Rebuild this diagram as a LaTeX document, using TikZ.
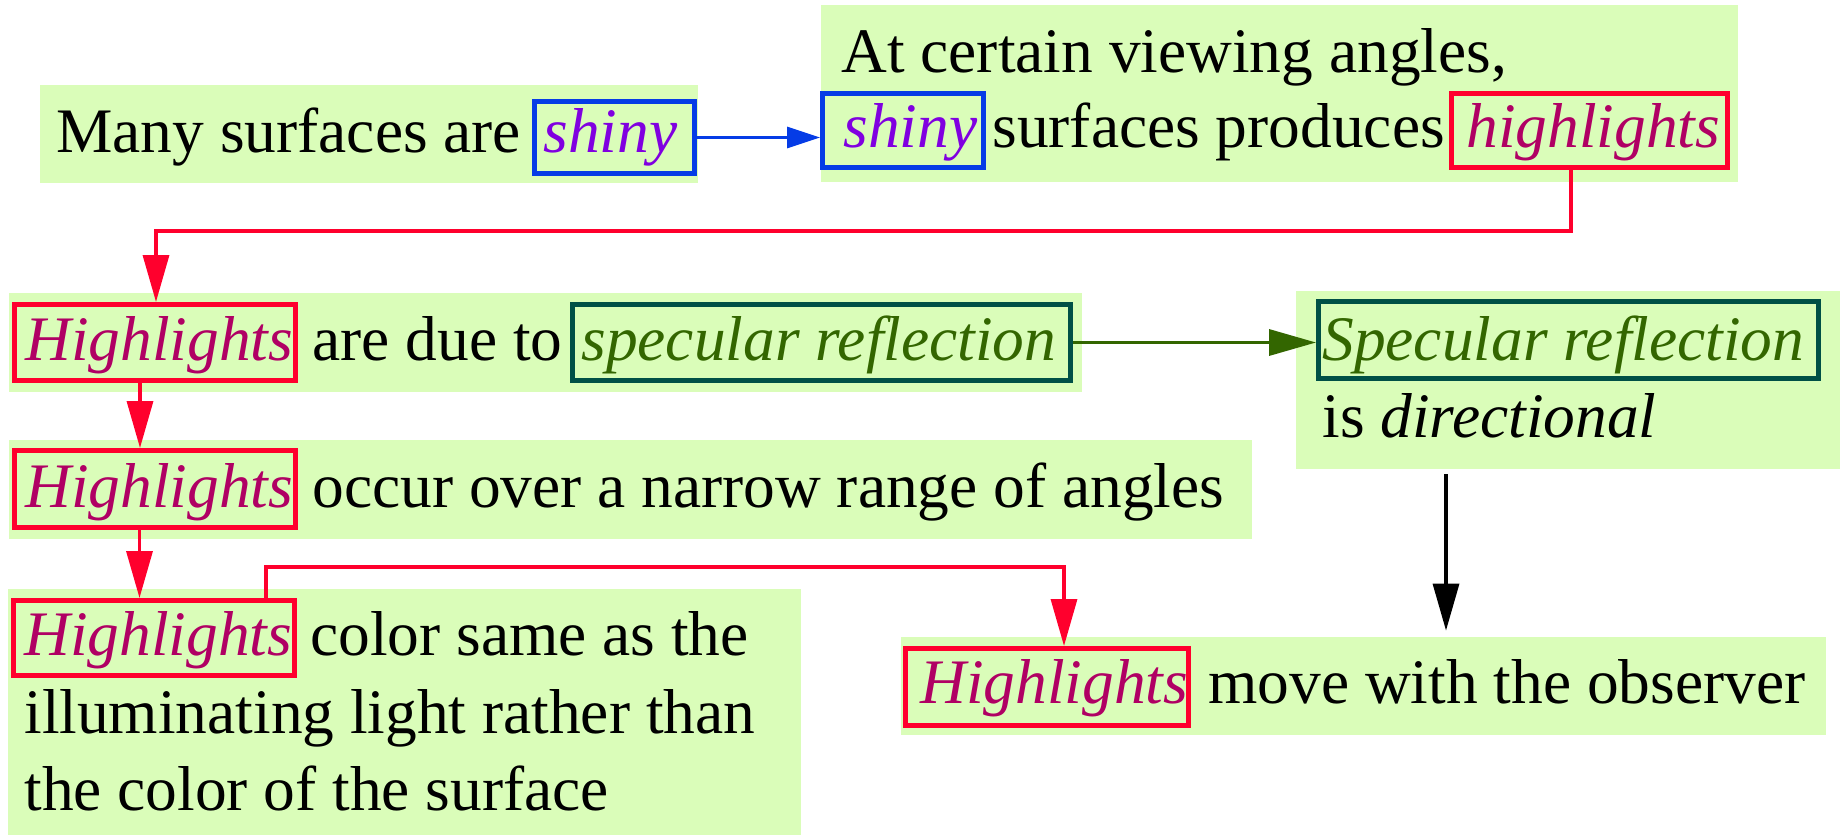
\documentclass[tikz,border=0pt]{standalone}
\usepackage{fontspec}
\setmainfont{Liberation Serif}
\usetikzlibrary{arrows.meta,fit}
\definecolor{bggreen}{RGB}{218,253,185}
\definecolor{blueframe}{RGB}{5,60,230}
\definecolor{shinycol}{RGB}{128,0,224}
\definecolor{redframe}{RGB}{255,0,45}
\definecolor{hlcol}{RGB}{176,0,100}
\definecolor{tealframe}{RGB}{0,80,70}
\definecolor{speccol}{RGB}{51,102,0}
\begin{document}
\begin{tikzpicture}[x=0.5pt,y=-0.5pt,
  bgbox/.style={fill=bggreen, draw=none, inner sep=0pt},
  txt/.style={anchor=base west, inner sep=0pt, font=\fontsize{31.7}{38}\selectfont},
  frm/.style={draw=#1, line width=2.5pt, inner sep=0pt},
  conn/.style={line width=1.7pt, draw=#1, -{Triangle[length=23.5pt,width=13pt]}},
  connsmall/.style={line width=1.5pt, draw=#1, -{Triangle[length=16.5pt,width=10.5pt]}},
]
\useasboundingbox (0,0) rectangle (1840,835);

% backgrounds
\node[bgbox, fit={(40,85) (698,183)}] (bg1) {};
\node[bgbox, fit={(821,5) (1738,182)}] (bg2) {};
\node[bgbox, fit={(9,293) (1082,392)}] (bg3) {};
\node[bgbox, fit={(1296,291) (1840,469)}] (bg4) {};
\node[bgbox, fit={(9,440) (1252,539)}] (bg5) {};
\node[bgbox, fit={(8,589) (801,835)}] (bg6) {};
\node[bgbox, fit={(901,637) (1826,735)}] (bg7) {};

% frames
\node[frm=blueframe, fit={(534.5,101.5) (694.5,173.5)}] (s1) {};
\node[frm=blueframe, fit={(822.5,93.5) (983.5,167.5)}] (s2) {};
\node[frm=redframe, fit={(1451.5,93.5) (1727.5,167.5)}] (hl2) {};
\node[frm=redframe, fit={(14.5,304.5) (295.5,380.5)}] (h3) {};
\node[frm=tealframe, fit={(572.5,304.5) (1070.5,380.5)}] (sp3) {};
\node[frm=tealframe, fit={(1318.5,301.5) (1818.5,378.5)}] (sp4) {};
\node[frm=redframe, fit={(14.5,450.5) (295.5,527.5)}] (h4) {};
\node[frm=redframe, fit={(13.5,600.5) (294.5,675.5)}] (h5) {};
\node[frm=redframe, fit={(905.5,648.5) (1188.5,725.5)}] (h6) {};

% texts
\node[txt] (t1) at (56,152) {Many surfaces are};
\node[txt, text=shinycol] (t1s) at (543,152) {\itshape shiny};
\node[txt] (t2a) at (841,72) {At certain viewing angles,};
\node[txt, text=shinycol] (t2s) at (843,147) {\itshape shiny};
\node[txt] (t2b) at (992,147) {surfaces produces};
\node[txt, text=hlcol] (t2h) at (1466,147) {\itshape highlights};

\node[txt, text=hlcol] (t3h) at (25,360) {\itshape Highlights};
\node[txt] (t3a) at (312,360) {are due to};
\node[txt, text=speccol] (t3s) at (581,360) {\itshape specular reflection};

\node[txt, text=speccol] (t4s) at (1322,360) {\itshape Specular reflection};
\node[txt] (t4a) at (1322,437) {is \textit{directional}};

\node[txt, text=hlcol] (t5h) at (25,507) {\itshape Highlights};
\node[txt] (t5a) at (312,507) {occur over a narrow range of angles};

\node[txt, text=hlcol] (t6h) at (24,655) {\itshape Highlights};
\node[txt] (t6a) at (310,655) {color same as the};
\node[txt] (t6b) at (24,733) {illuminating light rather than};
\node[txt] (t6c) at (24,810) {the color of the surface};

\node[txt, text=hlcol] (t7h) at (920,703) {\itshape Highlights};
\node[txt] (t7a) at (1208,703) {move with the observer};

% connector helper coordinates
\coordinate (d1) at (1571,231);
\coordinate (d2) at (156,231);
\coordinate (c5) at (140,0);
\coordinate (c6) at (139.5,0);
\coordinate (e1) at (266,567);
\coordinate (e2) at (1064,567);
\coordinate (k) at (1446,0);

% connectors
\draw[connsmall=blueframe] (s1.east) -- (s1.east -| s2.west);
\draw[conn=redframe] (hl2.south -| d1) -- (d1) -- (d2) -- (h3.north -| d2);
\draw[conn=speccol] (sp3.east) -- (sp3.east -| sp4.west);
\draw[conn=black, shorten <=2.5pt, shorten >=3pt] (bg4.south -| k) -- (bg7.north -| k);
\draw[conn=redframe] (h3.south -| c5) -- (h4.north -| c5);
\draw[conn=redframe] (h4.south -| c6) -- (h5.north -| c6);
\draw[conn=redframe] (h5.north -| e1) -- (e1) -- (e2) -- (h6.north -| e2);
\end{tikzpicture}
\end{document}
